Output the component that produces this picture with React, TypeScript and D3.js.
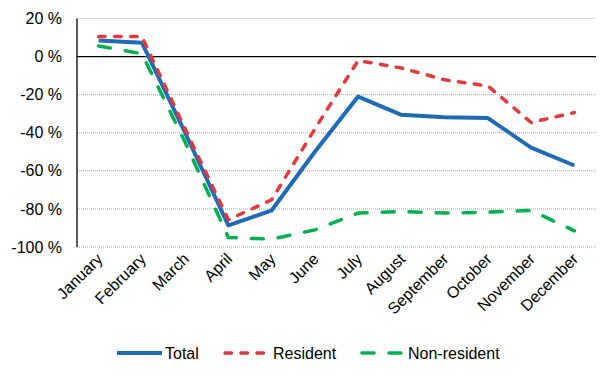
import React from "react";
import * as d3 from "d3";

const months = ["January","February","March","April","May","June","July","August","September","October","November","December"];
const total = [8.4, 7.3, -40, -88.7, -80.8, -50, -21, -30.6, -31.8, -32.3, -47.8, -57.2];
const resident = [10.5, 10.5, -38, -85.7, -75.2, -38, -2.1, -6, -12.2, -15.4, -34.6, -29.4];
const nonResident = [5.6, 1.5, -45, -95, -95.9, -91, -82.2, -81.4, -82.2, -81.7, -80.8, -91.5];
const yTicks = [20, 0, -20, -40, -60, -80, -100];

const W = 614, H = 378;
const left = 77, right = 596, top = 18.5, bottom = 247;
const FONT = "'Liberation Sans', Arial, sans-serif";

const series = [
  { name: "Total", values: total, color: "#1F6BB5", dash: "none", width: 4, cap: "butt" },
  { name: "Resident", values: resident, color: "#E03A3E", dash: "6.5 9.5", width: 3.5, cap: "round" },
  { name: "Non-resident", values: nonResident, color: "#00B050", dash: "12 15", width: 3.5, cap: "round" },
];

export default function App() {
  const x = d3.scaleBand<string>().domain(months).range([left, right]);
  const y = d3.scaleLinear().domain([-100, 20]).range([bottom, top]);
  const cx = (m: string) => (x(m) as number) + x.bandwidth() / 2;
  const line = d3.line<number>().x((_, i) => cx(months[i])).y((v) => y(v));

  const legend = [
    { x1: 117, x2: 162, tx: 165 },
    { x1: 225, x2: 267, tx: 273 },
    { x1: 362, x2: 404, tx: 408 },
  ];

  return (
    <svg width={W} height={H} style={{ position: "absolute", left: 0, top: 0, background: "#fff" }} fontFamily={FONT}>
      {yTicks.map((t) => (
        <g key={t}>
          {t !== 0 && (
            <line x1={left} x2={right} y1={y(t)} y2={y(t)}
              stroke={t === 20 ? "#d9d9d9" : "#a6a6a6"} strokeWidth={1}
              strokeDasharray={t === 20 ? "none" : "1 1"} />
          )}
          <text x={62} y={y(t)} dy="0.35em" textAnchor="end" fontSize={16} fill="#000">{`${t} %`}</text>
        </g>
      ))}
      <line x1={left} x2={right} y1={y(0)} y2={y(0)} stroke="#000" strokeWidth={1.3} />
      <line x1={left} x2={left} y1={top} y2={bottom} stroke="#000" strokeWidth={1.3} />
      {months.map((m) => (
        <text key={m} transform={`translate(${cx(m) + 5},${260}) rotate(-45)`} textAnchor="end" fontSize={16} fill="#000">{m}</text>
      ))}
      {series.map((s) => (
        <path key={s.name} d={line(s.values) as string} fill="none" stroke={s.color} strokeWidth={s.width}
          strokeDasharray={s.dash} strokeLinecap={s.cap as any} strokeLinejoin="round" />
      ))}
      {series.map((s, i) => (
        <g key={s.name}>
          <line x1={legend[i].x1} x2={legend[i].x2} y1={353} y2={353} stroke={s.color} strokeWidth={s.width}
            strokeDasharray={s.dash} strokeLinecap={s.cap as any} />
          <text x={legend[i].tx} y={353} dy="0.35em" fontSize={16} fill="#000">{s.name}</text>
        </g>
      ))}
    </svg>
  );
}
